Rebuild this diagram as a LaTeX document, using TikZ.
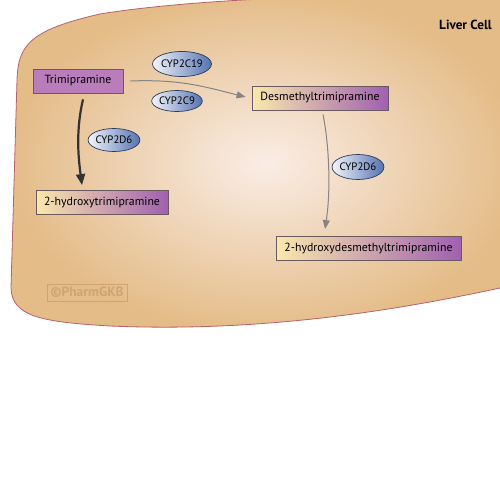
\documentclass[tikz,border=0pt]{standalone}
\usepackage{fontspec}
\setmainfont{PT Sans}
\usetikzlibrary{arrows.meta,positioning,shapes.geometric}
\definecolor{cellTan}{HTML}{E4BC88}
\definecolor{cellCore}{HTML}{FAEDE6}
\definecolor{cellEdge}{HTML}{B8606C}
\definecolor{drugPurple}{HTML}{BA7DBC}
\definecolor{metCream}{HTML}{FAE8AC}
\definecolor{metPurple}{HTML}{A060B0}
\definecolor{enzBlue}{HTML}{5673B2}
\definecolor{enzLight}{HTML}{F2F5FA}
\definecolor{enzLine}{HTML}{2C3B5C}
\definecolor{boxLine}{HTML}{6A5A5E}
\definecolor{wmTan}{HTML}{CDA574}
\definecolor{arrGray}{HTML}{858585}

\begin{document}
\begin{tikzpicture}[x=1pt,y=-1pt,
  drug/.style={draw=boxLine, fill=drugPurple, line width=0.8pt, inner sep=2pt,
               font=\fontsize{11.8}{14}\selectfont, minimum height=24pt},
  met/.style={drug, left color=metCream, right color=metPurple},
  enz/.style={ellipse, draw=enzLine, line width=0.7pt, inner sep=0pt,
              left color=enzLight, right color=enzBlue,
              font=\fontsize{10.8}{12}\selectfont},
  thin/.style={-{Triangle[length=9pt,width=7pt]}, draw=arrGray, line width=1pt},
  thick/.style={-{Triangle[length=11pt,width=9pt]}, draw=black!80, line width=2.2pt},
  lb/.style={font=\fontsize{13.2}{15}\selectfont\bfseries, inner sep=1pt}]
  \useasboundingbox (0,0) rectangle (500,487);
  \clip (0,0) rectangle (500,487);
  % the cell
  \draw[cellEdge, line width=0.8pt, inner color=cellCore, outer color=cellTan]
    (520,284) -- (500,288) .. controls (380,314) and (250,332) .. (110,326)
    .. controls (40,322) and (12,316) .. (11,288) -- (17,80)
    .. controls (18,45) and (30,30) .. (100,14)
    .. controls (200,-2) and (350,-6) .. (520,-6) -- cycle;
  \node[lb, anchor=east] (cell) at (493,25) {Liver Cell};
  % compounds
  \node[drug, minimum width=90pt] (trim) at (78,81) {Trimipramine};
  \node[met, minimum width=136pt] (desm) at (320,98) {Desmethyltrimipramine};
  \node[met, minimum width=132pt] (hyd) at (102,202.5) {2-hydroxytrimipramine};
  \node[met, minimum width=185pt] (hydd) at (368.5,248.5) {2-hydroxydesmethyltrimipramine};
  % enzymes
  \node[enz, minimum width=51pt, minimum height=25pt] (c19) at (182,64) {CYP2C19};
  \node[enz, minimum width=50pt, minimum height=21pt] (c9) at (177,101) {CYP2C9};
  \node[enz, minimum width=51pt, minimum height=23pt] (d6a) at (114,140) {CYP2D6};
  \node[enz, minimum width=50pt, minimum height=25pt] (d6b) at (358,167) {CYP2D6};
  % reactions
  \draw[thin] ([xshift=7pt]trim.east) .. controls +(50,-2) and +(-40,-10) .. ([xshift=-6pt,yshift=1pt]desm.west);
  \draw[thick] ([xshift=5pt,yshift=-6pt]trim.south) .. controls +(-7,30) and +(-4,-30) .. ([xshift=-20pt,yshift=5pt]hyd.north);
  \draw[thin] ([xshift=3pt,yshift=-4pt]desm.south) .. controls +(6,30) and +(6,-40) .. ([xshift=-43.5pt,yshift=7pt]hydd.north);
  % watermark
  \node[draw=wmTan, line width=0.8pt, text=wmTan, font=\fontsize{13.5}{15}\selectfont\bfseries,
        minimum width=80pt, minimum height=17pt, inner sep=1pt] (wm) at (87,292.5) {©PharmGKB};
\end{tikzpicture}
\end{document}
